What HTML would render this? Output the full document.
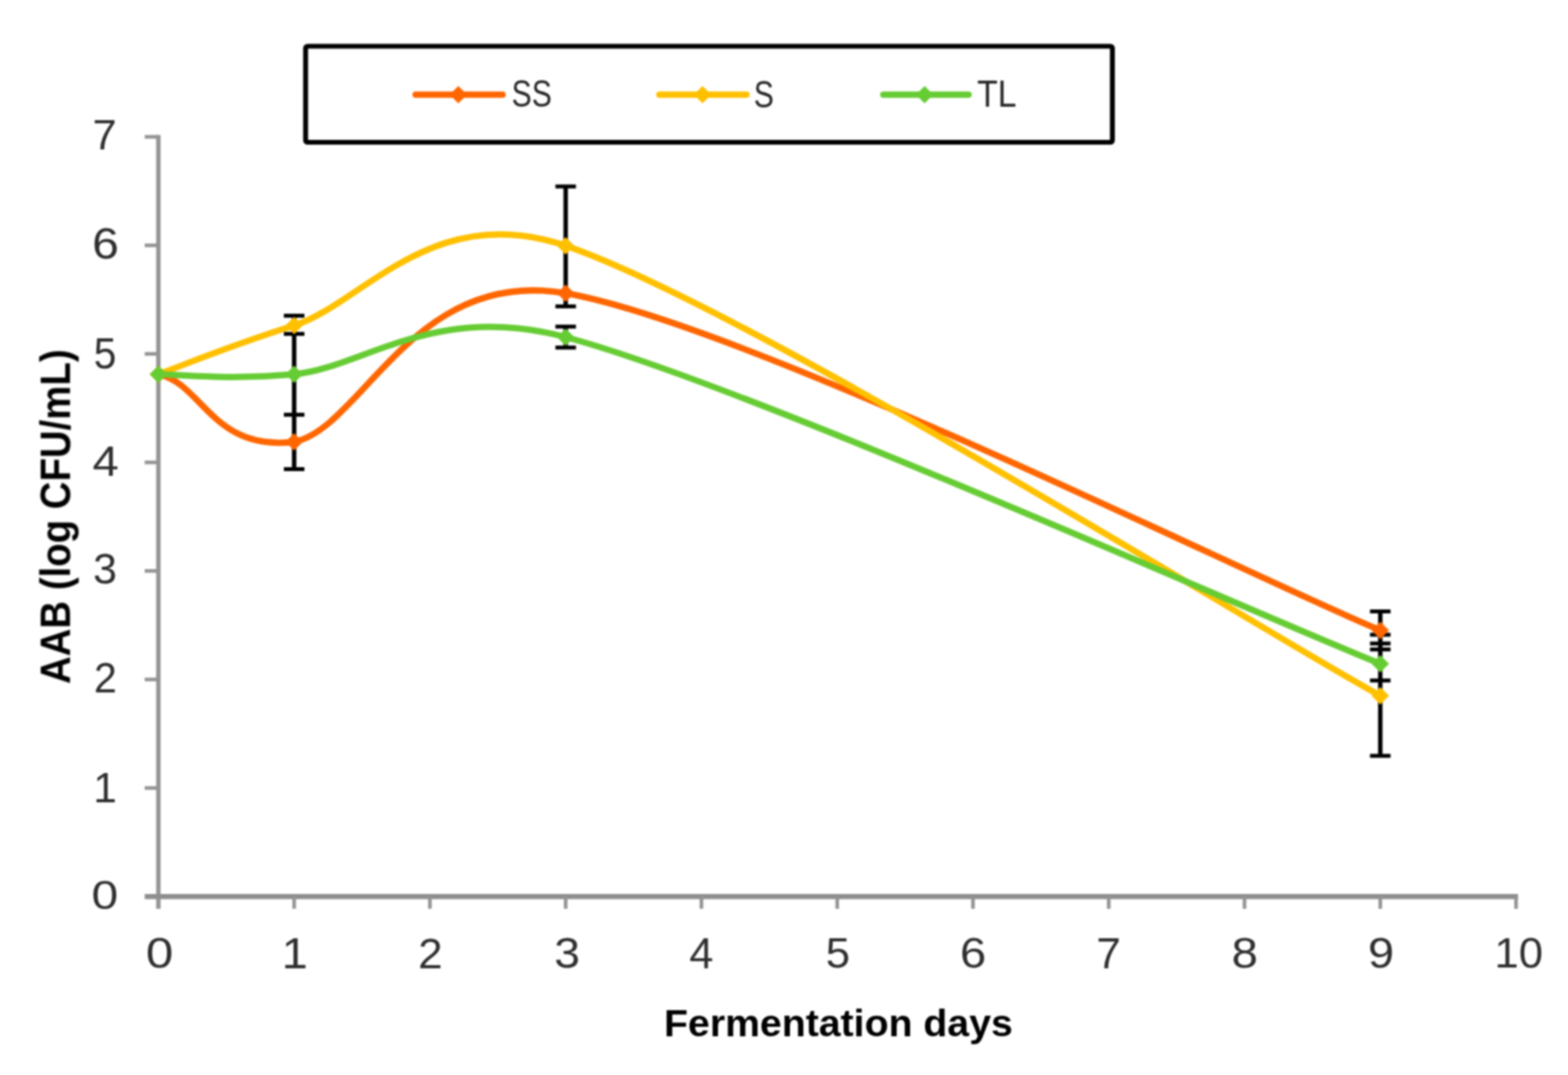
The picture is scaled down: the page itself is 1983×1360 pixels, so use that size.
<!DOCTYPE html><html><head><meta charset="utf-8"><style>html,body{margin:0;padding:0;background:#fff;}svg{display:block;}text{font-family:"Liberation Sans",Arial,sans-serif;}</style></head><body>
<svg width="1983" height="1360" viewBox="0 0 1983 1360">
<defs><filter id="soft" filterUnits="userSpaceOnUse" x="0" y="0" width="1983" height="1360" color-interpolation-filters="sRGB"><feGaussianBlur stdDeviation="0.8"/></filter></defs>
<rect width="1983" height="1360" fill="#ffffff"/>
<g filter="url(#soft)">
<g stroke="#949494" fill="none" stroke-linecap="butt">
<line x1="200.30" y1="170.80" x2="200.30" y2="1149.70" stroke-width="5.6"/>
<line x1="183.00" y1="1134.20" x2="1919.80" y2="1134.20" stroke-width="6.6" stroke="#8e8e8e"/>
<line x1="183" y1="996.90" x2="200.30" y2="996.90" stroke-width="4.6"/>
<line x1="183" y1="859.60" x2="200.30" y2="859.60" stroke-width="4.6"/>
<line x1="183" y1="722.30" x2="200.30" y2="722.30" stroke-width="4.6"/>
<line x1="183" y1="585.00" x2="200.30" y2="585.00" stroke-width="4.6"/>
<line x1="183" y1="447.70" x2="200.30" y2="447.70" stroke-width="4.6"/>
<line x1="183" y1="310.40" x2="200.30" y2="310.40" stroke-width="4.6"/>
<line x1="183" y1="173.10" x2="200.30" y2="173.10" stroke-width="4.6"/>
<line x1="372.00" y1="1134.20" x2="372.00" y2="1149.70" stroke-width="4.6"/>
<line x1="543.70" y1="1134.20" x2="543.70" y2="1149.70" stroke-width="4.6"/>
<line x1="715.40" y1="1134.20" x2="715.40" y2="1149.70" stroke-width="4.6"/>
<line x1="887.10" y1="1134.20" x2="887.10" y2="1149.70" stroke-width="4.6"/>
<line x1="1058.80" y1="1134.20" x2="1058.80" y2="1149.70" stroke-width="4.6"/>
<line x1="1230.50" y1="1134.20" x2="1230.50" y2="1149.70" stroke-width="4.6"/>
<line x1="1402.20" y1="1134.20" x2="1402.20" y2="1149.70" stroke-width="4.6"/>
<line x1="1573.90" y1="1134.20" x2="1573.90" y2="1149.70" stroke-width="4.6"/>
<line x1="1745.60" y1="1134.20" x2="1745.60" y2="1149.70" stroke-width="4.6"/>
<line x1="1917.30" y1="1134.20" x2="1917.30" y2="1149.70" stroke-width="4.6"/>
</g>
<text transform="matrix(0.60632 0 0 0.50563 115.77 1150.09)" font-size="100" font-weight="normal" fill="#2e2e2e">0</text>
<text transform="matrix(0.53488 0 0 0.54348 117.99 1015.00)" font-size="100" font-weight="normal" fill="#2e2e2e">1</text>
<text transform="matrix(0.52198 0 0 0.53571 118.64 876.25)" font-size="100" font-weight="normal" fill="#2e2e2e">2</text>
<text transform="matrix(0.54255 0 0 0.54577 117.83 738.20)" font-size="100" font-weight="normal" fill="#2e2e2e">3</text>
<text transform="matrix(0.59800 0 0 0.54493 117.00 602.00)" font-size="100" font-weight="normal" fill="#2e2e2e">4</text>
<text transform="matrix(0.51579 0 0 0.55357 118.44 465.70)" font-size="100" font-weight="normal" fill="#2e2e2e">5</text>
<text transform="matrix(0.60870 0 0 0.54577 116.46 326.95)" font-size="100" font-weight="normal" fill="#2e2e2e">6</text>
<text transform="matrix(0.54945 0 0 0.52899 117.05 189.40)" font-size="100" font-weight="normal" fill="#2e2e2e">7</text>
<text transform="matrix(0.62316 0 0 0.53521 184.61 1224.46)" font-size="100" font-weight="normal" fill="#2e2e2e">0</text>
<text transform="matrix(0.59302 0 0 0.55072 356.25 1225.00)" font-size="100" font-weight="normal" fill="#2e2e2e">1</text>
<text transform="matrix(0.55824 0 0 0.54286 528.81 1225.00)" font-size="100" font-weight="normal" fill="#2e2e2e">2</text>
<text transform="matrix(0.58511 0 0 0.53521 700.96 1224.46)" font-size="100" font-weight="normal" fill="#2e2e2e">3</text>
<text transform="matrix(0.54800 0 0 0.55072 871.63 1225.00)" font-size="100" font-weight="normal" fill="#2e2e2e">4</text>
<text transform="matrix(0.55368 0 0 0.54286 1044.19 1224.46)" font-size="100" font-weight="normal" fill="#2e2e2e">5</text>
<text transform="matrix(0.59783 0 0 0.53521 1214.01 1224.46)" font-size="100" font-weight="normal" fill="#2e2e2e">6</text>
<text transform="matrix(0.55824 0 0 0.55072 1386.51 1225.00)" font-size="100" font-weight="normal" fill="#2e2e2e">7</text>
<text transform="matrix(0.60000 0 0 0.53521 1557.50 1224.46)" font-size="100" font-weight="normal" fill="#2e2e2e">8</text>
<text transform="matrix(0.59570 0 0 0.53521 1729.92 1224.46)" font-size="100" font-weight="normal" fill="#2e2e2e">9</text>
<text transform="matrix(0.55176 0 0 0.53521 1889.96 1224.46)" font-size="100" font-weight="normal" fill="#2e2e2e">10</text>
<text transform="matrix(0.49630 0 0 0.48841 839.77 1310.70)" font-size="100" font-weight="bold" fill="#000">Fermentation days</text>
<text transform="matrix(0 -0.48543 0.53768 0 88.90 865.31)" font-size="100" font-weight="bold" fill="#000">AAB (log CFU/mL)</text>
<line x1="372.00" y1="399.40" x2="372.00" y2="593.50" stroke="#000" stroke-width="5.6"/><line x1="359.00" y1="399.40" x2="385.00" y2="399.40" stroke="#000" stroke-width="5.0"/><line x1="359.00" y1="422.40" x2="385.00" y2="422.40" stroke="#000" stroke-width="5.0"/><line x1="359.00" y1="524.70" x2="385.00" y2="524.70" stroke="#000" stroke-width="5.0"/><line x1="359.00" y1="593.50" x2="385.00" y2="593.50" stroke="#000" stroke-width="5.0"/>
<line x1="715.40" y1="235.90" x2="715.40" y2="387.60" stroke="#000" stroke-width="5.6"/><line x1="702.40" y1="235.90" x2="728.40" y2="235.90" stroke="#000" stroke-width="5.0"/><line x1="702.40" y1="387.60" x2="728.40" y2="387.60" stroke="#000" stroke-width="5.0"/>
<line x1="715.40" y1="413.20" x2="715.40" y2="439.70" stroke="#000" stroke-width="5.6"/><line x1="702.40" y1="413.20" x2="728.40" y2="413.20" stroke="#000" stroke-width="5.0"/><line x1="702.40" y1="439.70" x2="728.40" y2="439.70" stroke="#000" stroke-width="5.0"/>
<line x1="1745.60" y1="773.50" x2="1745.60" y2="956.20" stroke="#000" stroke-width="5.6"/><line x1="1732.60" y1="773.50" x2="1758.60" y2="773.50" stroke="#000" stroke-width="5.0"/><line x1="1732.60" y1="803.00" x2="1758.60" y2="803.00" stroke="#000" stroke-width="5.0"/><line x1="1732.60" y1="814.10" x2="1758.60" y2="814.10" stroke="#000" stroke-width="5.0"/><line x1="1732.60" y1="821.60" x2="1758.60" y2="821.60" stroke="#000" stroke-width="5.0"/><line x1="1732.60" y1="860.90" x2="1758.60" y2="860.90" stroke="#000" stroke-width="5.0"/><line x1="1732.60" y1="956.20" x2="1758.60" y2="956.20" stroke="#000" stroke-width="5.0"/>
<path d="M200.30,473.50 C255.50,484.50 268.30,571.30 372.00,559.00 C457.85,541.92 522.54,337.53 715.40,371.00 C944.33,410.73 1573.90,726.33 1745.60,797.40" fill="none" stroke="#FF6600" stroke-width="8.0" stroke-linejoin="round" stroke-linecap="round"/>
<path d="M200.30,473.50 C228.92,463.22 286.15,438.90 372.00,411.80 C457.85,384.70 546.02,253.13 715.40,310.90 C944.33,388.98 1573.90,785.40 1745.60,880.30" fill="none" stroke="#FFC000" stroke-width="8.0" stroke-linejoin="round" stroke-linecap="round"/>
<path d="M200.30,473.50 C228.92,473.50 286.51,481.30 372.00,473.50 C457.85,465.67 547.95,381.86 715.40,426.50 C944.33,487.53 1573.90,770.83 1745.60,839.70" fill="none" stroke="#66CC33" stroke-width="8.0" stroke-linejoin="round" stroke-linecap="round"/>
<path d="M200.30,462.50 L211.30,473.50 L200.30,484.50 L189.30,473.50 Z" fill="#FF6600"/>
<path d="M372.00,548.00 L383.00,559.00 L372.00,570.00 L361.00,559.00 Z" fill="#FF6600"/>
<path d="M715.40,360.00 L726.40,371.00 L715.40,382.00 L704.40,371.00 Z" fill="#FF6600"/>
<path d="M1745.60,786.40 L1756.60,797.40 L1745.60,808.40 L1734.60,797.40 Z" fill="#FF6600"/>
<path d="M200.30,462.50 L211.30,473.50 L200.30,484.50 L189.30,473.50 Z" fill="#FFC000"/>
<path d="M372.00,400.80 L383.00,411.80 L372.00,422.80 L361.00,411.80 Z" fill="#FFC000"/>
<path d="M715.40,299.90 L726.40,310.90 L715.40,321.90 L704.40,310.90 Z" fill="#FFC000"/>
<path d="M1745.60,869.30 L1756.60,880.30 L1745.60,891.30 L1734.60,880.30 Z" fill="#FFC000"/>
<path d="M200.30,462.50 L211.30,473.50 L200.30,484.50 L189.30,473.50 Z" fill="#66CC33"/>
<path d="M372.00,462.50 L383.00,473.50 L372.00,484.50 L361.00,473.50 Z" fill="#66CC33"/>
<path d="M715.40,415.50 L726.40,426.50 L715.40,437.50 L704.40,426.50 Z" fill="#66CC33"/>
<path d="M1745.60,828.70 L1756.60,839.70 L1745.60,850.70 L1734.60,839.70 Z" fill="#66CC33"/>
<rect x="386.5" y="58.5" width="1020.3" height="121.5" fill="#fff" stroke="#000" stroke-width="6.2" rx="2.5"/>
<line x1="525.60" y1="119.75" x2="635.60" y2="119.75" stroke="#FF6600" stroke-width="8.0" stroke-linecap="round"/>
<path d="M579.60,108.75 L590.60,119.75 L579.60,130.75 L568.60,119.75 Z" fill="#FF6600"/>
<text transform="matrix(0.38065 0 0 0.47465 647.09 135.23)" font-size="100" font-weight="normal" fill="#262626">SS</text>
<line x1="833.90" y1="119.75" x2="944.10" y2="119.75" stroke="#FFC000" stroke-width="8.0" stroke-linecap="round"/>
<path d="M888.50,108.75 L899.50,119.75 L888.50,130.75 L877.50,119.75 Z" fill="#FFC000"/>
<text transform="matrix(0.38087 0 0 0.48451 953.19 135.52)" font-size="100" font-weight="normal" fill="#262626">S</text>
<line x1="1117.10" y1="119.75" x2="1224.90" y2="119.75" stroke="#66CC33" stroke-width="8.0" stroke-linecap="round"/>
<path d="M1169.30,108.75 L1180.30,119.75 L1169.30,130.75 L1158.30,119.75 Z" fill="#66CC33"/>
<text transform="matrix(0.42780 0 0 0.47391 1235.74 135.00)" font-size="100" font-weight="normal" fill="#262626">TL</text>
</g></svg></body></html>
